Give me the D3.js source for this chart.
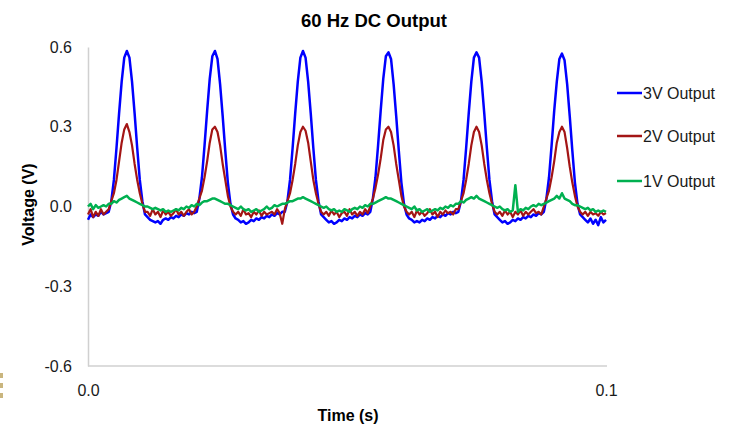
<!DOCTYPE html>
<html><head><meta charset="utf-8">
<script src="https://cdn.jsdelivr.net/npm/d3@7"></script>
<style>body{margin:0;background:#fff}svg{display:block;font-family:"Liberation Sans",Arial,sans-serif}</style>
</head><body><svg id="c" width="732" height="426"></svg>
<script>
const title = "60 Hz DC Output";
const seriesNames = ["3V Output", "2V Output", "1V Output"];
const seriesColors = ["#0000ff", "#a31515", "#00b050"];
const yTicks = [0.6, 0.3, 0.0, -0.3, -0.6];
const xTicks = [0.0, 0.1];
const sampleInterval = 0.0005; // seconds per sample
const v3 = [
-0.05,-0.03,-0.04,-0.03,-0.035,-0.02,-0.03,-0.025,
-0.02,0.02,0.10,0.22,0.35,0.47,0.56,0.585,0.56,0.47,0.35,0.22,0.10,0.02,-0.03,
-0.04,-0.05,-0.055,-0.06,-0.055,-0.065,-0.05,-0.045,-0.05,-0.04,-0.045,-0.035,-0.04,-0.03,-0.035,-0.025,-0.03,-0.02,-0.025,
-0.02,0.03,0.11,0.23,0.36,0.48,0.565,0.585,0.555,0.46,0.34,0.21,0.09,0.01,-0.03,
-0.045,-0.05,-0.06,-0.055,-0.065,-0.06,-0.05,-0.055,-0.045,-0.05,-0.04,-0.045,-0.035,-0.04,-0.03,-0.035,-0.025,-0.03,-0.02,
-0.02,0.02,0.10,0.22,0.35,0.47,0.56,0.585,0.56,0.47,0.35,0.22,0.10,0.02,-0.03,
-0.04,-0.05,-0.06,-0.055,-0.065,-0.06,-0.05,-0.055,-0.045,-0.05,-0.04,-0.045,-0.035,-0.04,-0.03,-0.035,-0.025,-0.03,
-0.02,0.03,0.11,0.23,0.36,0.48,0.565,0.58,0.555,0.46,0.34,0.21,0.09,0.01,-0.03,
-0.045,-0.05,-0.06,-0.055,-0.06,-0.05,-0.055,-0.045,-0.05,-0.04,-0.045,-0.035,-0.04,-0.03,-0.035,-0.025,-0.03,-0.02,-0.025,
-0.02,0.02,0.10,0.22,0.35,0.47,0.56,0.58,0.56,0.47,0.35,0.22,0.10,0.02,-0.03,
-0.04,-0.05,-0.06,-0.055,-0.065,-0.06,-0.05,-0.055,-0.045,-0.05,-0.04,-0.045,-0.035,-0.04,-0.03,-0.035,-0.025,-0.03,
-0.02,0.03,0.11,0.23,0.36,0.47,0.555,0.575,0.55,0.46,0.34,0.21,0.09,0.01,-0.03,
-0.04,-0.05,-0.06,-0.045,-0.065,-0.05,-0.07,-0.04,-0.06,-0.05
];
const v2 = [
-0.03,-0.01,-0.04,-0.02,-0.035,-0.01,-0.03,-0.02,
-0.01,0.02,0.05,0.10,0.17,0.24,0.29,0.31,0.28,0.23,0.16,0.10,0.05,0.01,-0.02,
-0.02,-0.035,-0.01,-0.03,-0.02,-0.04,-0.015,-0.03,-0.02,-0.035,-0.025,-0.01,-0.03,-0.02,-0.035,-0.02,-0.01,-0.03,-0.02,
0.0,0.03,0.06,0.11,0.17,0.24,0.29,0.30,0.28,0.23,0.16,0.10,0.04,0.0,-0.02,
-0.03,-0.02,-0.035,-0.01,-0.03,-0.025,-0.04,-0.02,-0.03,-0.015,-0.035,-0.02,-0.03,-0.025,-0.02,-0.03,-0.01,-0.025,-0.065,
-0.01,0.02,0.05,0.10,0.16,0.23,0.28,0.30,0.285,0.24,0.17,0.10,0.05,0.01,-0.02,
-0.03,-0.02,-0.035,-0.015,-0.03,-0.02,-0.04,-0.025,-0.02,-0.035,-0.01,-0.03,-0.02,-0.035,-0.02,-0.03,-0.01,-0.025,
0.0,0.03,0.07,0.12,0.18,0.25,0.29,0.30,0.28,0.23,0.16,0.10,0.04,0.0,-0.02,
-0.03,-0.02,-0.04,-0.015,-0.03,-0.02,-0.035,-0.025,-0.01,-0.03,-0.02,-0.04,-0.02,-0.03,-0.015,-0.025,-0.02,-0.03,-0.01,
-0.01,0.02,0.05,0.10,0.16,0.23,0.28,0.30,0.28,0.23,0.16,0.10,0.05,0.01,-0.02,
-0.03,-0.02,-0.035,-0.015,-0.03,-0.02,-0.04,-0.02,-0.03,-0.015,-0.035,-0.02,-0.03,-0.02,-0.01,-0.025,-0.02,-0.03,
0.0,0.03,0.06,0.11,0.17,0.24,0.28,0.30,0.28,0.22,0.15,0.09,0.04,0.0,-0.02,
-0.03,-0.02,-0.035,-0.02,-0.03,-0.025,-0.035,-0.02,-0.03,-0.025
];
const v1 = [
0.0,0.01,-0.01,0.005,-0.005,0.0,0.005,0.0,
0.01,0.01,0.02,0.015,0.025,0.03,0.035,0.04,0.03,0.025,0.02,0.015,0.01,0.005,0.0,
0.0,-0.005,-0.01,-0.005,-0.01,-0.015,-0.01,-0.02,-0.015,-0.02,-0.015,-0.01,-0.015,-0.005,-0.01,0.0,-0.005,0.005,0.0,
0.01,0.005,0.015,0.02,0.02,0.025,0.03,0.03,0.025,0.02,0.015,0.01,0.01,0.005,0.0,
-0.005,-0.01,0.0,-0.01,-0.015,-0.01,-0.02,-0.015,-0.01,-0.02,-0.015,-0.01,0.0,-0.01,-0.005,0.005,0.0,0.005,0.01,
0.01,0.015,0.02,0.02,0.025,0.03,0.03,0.035,0.03,0.025,0.02,0.015,0.01,0.005,0.0,
-0.005,0.0,-0.01,-0.015,-0.01,-0.02,-0.015,-0.02,-0.01,-0.015,-0.02,-0.01,-0.005,-0.01,0.0,-0.005,0.005,0.0,
0.01,0.01,0.015,0.02,0.025,0.03,0.035,0.03,0.03,0.025,0.02,0.015,0.01,0.005,0.0,
-0.005,-0.01,0.0,-0.015,-0.01,-0.02,-0.015,-0.01,-0.02,-0.015,-0.01,-0.015,-0.005,-0.01,0.0,-0.005,0.005,0.0,0.01,
0.01,0.02,0.015,0.025,0.03,0.035,0.03,0.04,0.03,0.025,0.02,0.015,0.01,0.005,0.0,
-0.005,0.0,-0.01,-0.015,-0.01,-0.02,-0.015,0.08,-0.02,-0.01,-0.015,-0.005,-0.01,0.0,0.005,0.0,0.01,0.005,
0.01,0.015,0.02,0.025,0.03,0.04,0.03,0.05,0.03,0.025,0.02,0.01,0.005,0.005,0.0,
-0.005,-0.01,-0.005,-0.015,-0.01,-0.02,-0.015,-0.02,-0.015,-0.02
];
const seriesValues = [v3, v2, v1];

const svg = d3.select("#c");
const x = d3.scaleLinear().domain([0, 0.1]).range([88, 606]);
const y = d3.scaleLinear().domain([-0.6, 0.6]).range([366, 47]);
const axisColor = "#d0d0d0";
const fmt = d => d3.format(".1f")(d).replace("\u2212", "-");

// left decoration
[373, 383, 393].forEach(yy => svg.append("rect").attr("x", 0).attr("y", yy).attr("width", 3).attr("height", 5).attr("fill", "#c9b57e"));

svg.append("text").attr("x", 374).attr("y", 26.5).attr("text-anchor", "middle")
  .attr("font-size", 18.5).attr("font-weight", "bold").attr("fill", "#000").text(title);

// axes
const yAx = svg.append("g").attr("transform", "translate(88,0)")
  .call(d3.axisLeft(y).tickValues(yTicks).tickSize(0).tickPadding(16).tickFormat(fmt));
const xAx = svg.append("g").attr("transform", "translate(0,366)")
  .call(d3.axisBottom(x).tickValues(xTicks).tickSize(0).tickPadding(19).tickFormat(fmt));
[yAx, xAx].forEach(g => {
  g.select(".domain").attr("stroke", axisColor).attr("stroke-width", 1.5);
  g.selectAll("text").attr("font-size", 16).attr("fill", "#1a1a1a").attr("font-family", '"Liberation Sans",Arial,sans-serif');
});
xAx.select(".domain").attr("d", "M88,0H607");

svg.append("text").attr("transform", "translate(34,204.5) rotate(-90)").attr("text-anchor", "middle")
  .attr("font-size", 16).attr("font-weight", "bold").text("Voltage (V)");
svg.append("text").attr("x", 348).attr("y", 421).attr("text-anchor", "middle")
  .attr("font-size", 16).attr("font-weight", "bold").text("Time (s)");

const line = d3.line().x((d, i) => x(i * sampleInterval)).y(d => y(d));
const widths = [2.5, 2.2, 2.5];
seriesValues.forEach((vals, k) => {
  svg.append("path").datum(vals).attr("d", line).attr("fill", "none")
    .attr("stroke", seriesColors[k]).attr("stroke-width", widths[k]).attr("stroke-linejoin", "round");
});

// legend
const legY = [93, 136, 181];
seriesNames.forEach((n, k) => {
  svg.append("line").attr("x1", 617).attr("x2", 642).attr("y1", legY[k]).attr("y2", legY[k])
    .attr("stroke", seriesColors[k]).attr("stroke-width", 2.5);
  svg.append("text").attr("x", 643).attr("y", legY[k] + 5.5).attr("font-size", 16).attr("fill", "#1a1a1a").text(n);
});
</script></body></html>
